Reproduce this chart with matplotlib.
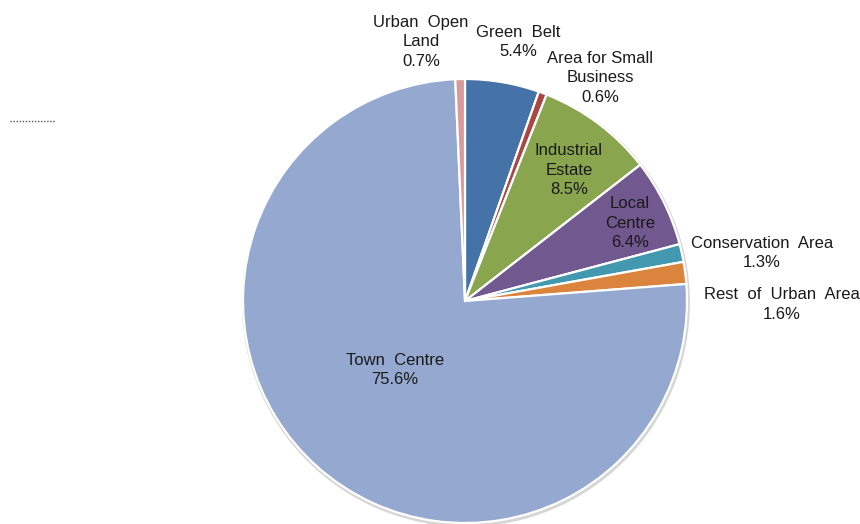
import matplotlib.pyplot as plt
from matplotlib.patches import Circle
from matplotlib.lines import Line2D

plt.rcParams['font.family'] = ['Liberation Sans', 'DejaVu Sans']

# land use share, clockwise from 12 o'clock
names = ['Green  Belt', 'Area for Small\nBusiness', 'Industrial\nEstate', 'Local\nCentre',
         'Conservation  Area', 'Rest  of  Urban  Area', 'Town  Centre', 'Urban  Open\nLand']
shares = [5.4, 0.6, 8.5, 6.4, 1.3, 1.6, 75.6, 0.7]
colors = ['#4572A7', '#AA4643', '#89A54E', '#71588F', '#4198AF', '#DB843D', '#95A9D0', '#D89A9A']

# label anchor (x, y) in pie-radius units
label_pos = [(0.239, 1.167), (0.608, 1.005), (0.468, 0.59), (0.743, 0.351),
             (1.338, 0.216), (1.428, -0.014), (-0.315, -0.311), (-0.198, 1.167)]

fig = plt.figure(figsize=(8.6, 5.24), dpi=100)
cx, cy, r = 465, 301, 222
W, H = 860, 524
ax = fig.add_axes([(cx - r) / W, (H - cy - r) / H, 2 * r / W, 2 * r / H])

# soft shadow under the pie
ax.add_patch(Circle((0.004, -0.008), 1.006, color='#d6d6d6', zorder=0, clip_on=False))

wedges, _ = ax.pie(shares, colors=colors, startangle=90, counterclock=False, radius=1,
                   wedgeprops=dict(edgecolor='white', linewidth=1.6))
for w in wedges:
    w.set_clip_on(False)
ax.set_xlim(-1, 1)
ax.set_ylim(-1, 1)
ax.axis('off')

for name, val, (x, y) in zip(names, shares, label_pos):
    ax.text(x, y, f'{name}\n{val}%', ha='center', va='center', fontsize=12,
            color='#1a1a1a', linespacing=1.4, clip_on=False)

# dotted stub at top left
fig.add_artist(Line2D([10 / W, 55 / W], [1 - 121 / H, 1 - 121 / H], color='#555555',
                      linestyle=(0, (1, 1.2)), linewidth=1))

fig.savefig('out.png', dpi=100)
